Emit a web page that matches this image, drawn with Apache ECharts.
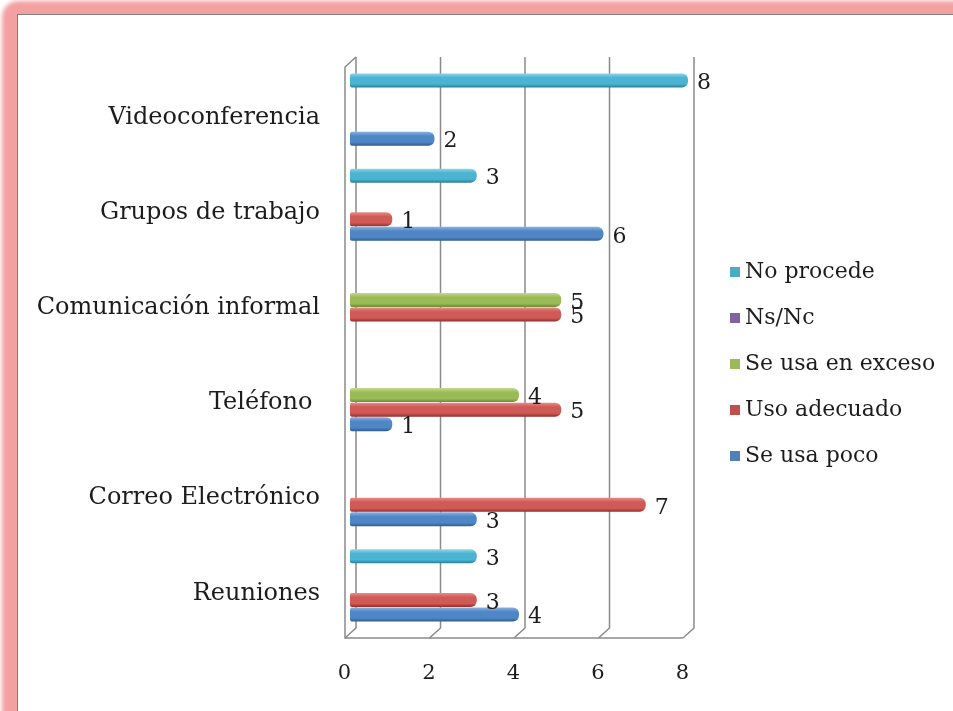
<!DOCTYPE html>
<html>
<head>
<meta charset="utf-8">
<script src="https://cdn.jsdelivr.net/npm/echarts@6/dist/echarts.min.js"></script>
<style>
  html, body { margin: 0; padding: 0; width: 953px; height: 711px; overflow: hidden; background: #fff; }
  #frame { position: absolute; left: 2px; top: 1px; width: 1000px; height: 760px; background: #f3a0a0; border-radius: 16px; filter: blur(2px); }
  #sheet { position: absolute; left: 17px; top: 14px; width: 1000px; height: 800px; background: #fff; border-top: 1.5px solid #7f7f7f; border-left: 1.5px solid #7f7f7f; }
  #chart { position: absolute; left: 0; top: 0; width: 953px; height: 711px; }
</style>
</head>
<body>
<div id="frame"></div>
<div id="sheet"></div>
<div id="chart"></div>
<script>
// Categories, bottom to top
const categories = ['Reuniones', 'Correo Electrónico', 'Teléfono ', 'Comunicación informal', 'Grupos de trabajo', 'Videoconferencia'];

// Series values per category (null = no answer in that group)
const seUsaPoco     = [4, 3, 1, null, 6, 2];
const usoAdecuado   = [3, 7, 5, 5, 1, null];
const seUsaEnExceso = [null, null, 4, 5, null, null];
const nsNc          = [null, null, null, null, null, null];
const noProcede     = [3, null, null, null, 3, 8];

// Value axis ticks
const xTicks = [0, 2, 4, 6, 8];

const FONT = 'DejaVu Serif';
const TEXT = '#1c1c1c';

// Cylinder shading: light top edge, base colour, dark bottom edge
function cyl(light, base, dark) {
  return new echarts.graphic.LinearGradient(0, 0, 0, 1, [
    { offset: 0, color: light },
    { offset: 0.3, color: base },
    { offset: 0.75, color: base },
    { offset: 1, color: dark }
  ]);
}

const palette = {
  'No procede':       { flat: '#4bacc6', fill: cyl('#8fd6ea', '#4bb4d2', '#2b7f96') },
  'Ns/Nc':            { flat: '#8064a2', fill: cyl('#a78fc4', '#8064a2', '#5a447a') },
  'Se usa en exceso': { flat: '#9bbb59', fill: cyl('#c4dc8c', '#9bbb59', '#6c8a34') },
  'Uso adecuado':     { flat: '#c0504d', fill: cyl('#e88c89', '#d05a56', '#8e2f2c') },
  'Se usa poco':      { flat: '#4f81bd', fill: cyl('#8cb2e2', '#4f86c6', '#2f5a8e') }
};

const seriesDefs = [
  ['No procede', noProcede],
  ['Ns/Nc', nsNc],
  ['Se usa en exceso', seUsaEnExceso],
  ['Uso adecuado', usoAdecuado],
  ['Se usa poco', seUsaPoco]
];

const barSeries = seriesDefs.map(([name, values]) => ({
  name: name,
  type: 'bar',
  data: values,
  barWidth: 14,
  barGap: '4%',
  z: 3,
  itemStyle: {
    color: palette[name].fill,
    borderRadius: [2, 6, 6, 2]
  },
  label: {
    show: true,
    position: 'right',
    distance: 9,
    offset: [0, 3],
    fontFamily: FONT,
    fontSize: 22,
    color: TEXT
  }
}));

// 3D box: left wall, back-wall gridlines and floor, drawn from the value axis
const DEPTH_BACK_X = 6, DEPTH_FRONT_X = -5, DEPTH_Y = 5;
const frameSeries = {
  type: 'custom',
  silent: true,
  z: 1,
  clip: false,
  data: xTicks.map(v => [v, 0]),
  encode: { x: 0, y: 1 },
  renderItem: function (params, api) {
    const cs = params.coordSys;
    const top = cs.y, bottom = cs.y + cs.height;
    const x = api.coord([api.value(0), 0])[0];
    const style = { stroke: '#8a8a8a', lineWidth: 1.5, fill: null };
    const children = [{
      type: 'polyline',
      shape: { points: [[x + DEPTH_BACK_X, top - DEPTH_Y], [x + DEPTH_BACK_X, bottom - DEPTH_Y], [x + DEPTH_FRONT_X, bottom + DEPTH_Y]] },
      style: style
    }];
    if (params.dataIndex === 0) {
      const xEnd = api.coord([xTicks[xTicks.length - 1], 0])[0];
      children.push({
        type: 'polyline',
        shape: { points: [[x + DEPTH_BACK_X, top - DEPTH_Y], [x + DEPTH_FRONT_X, top + DEPTH_Y], [x + DEPTH_FRONT_X, bottom + DEPTH_Y], [xEnd + DEPTH_FRONT_X, bottom + DEPTH_Y]] },
        style: style
      });
    }
    return { type: 'group', children: children };
  }
};

const chart = echarts.init(document.getElementById('chart'), null, { renderer: 'canvas' });
chart.setOption({
  backgroundColor: 'transparent',
  animation: false,
  grid: { left: 350, right: 265, top: 62, bottom: 78, containLabel: false },
  xAxis: {
    type: 'value',
    min: 0, max: 8, interval: 2,
    axisLine: { show: false },
    axisTick: { show: false },
    splitLine: { show: false },
    axisLabel: { fontFamily: FONT, fontSize: 21, color: TEXT, margin: 30, padding: [0, 11, 0, 0] }
  },
  yAxis: {
    type: 'category',
    data: categories,
    axisLine: { show: false },
    axisTick: { show: false },
    axisLabel: { fontFamily: FONT, fontSize: 24, color: TEXT, margin: 30, verticalAlign: 'top', lineHeight: 16 }
  },
  legend: {
    orient: 'vertical',
    left: 725,
    top: 256,
    itemWidth: 10,
    itemHeight: 10,
    itemGap: 24,
    icon: 'rect',
    textStyle: { fontFamily: FONT, fontSize: 22, color: TEXT },
    data: seriesDefs.map(([name]) => ({ name: name, itemStyle: { color: palette[name].flat } }))
  },
  series: [frameSeries].concat(barSeries)
});
</script>
</body>
</html>
